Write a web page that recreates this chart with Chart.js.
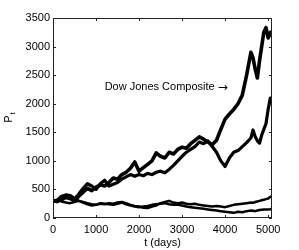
<!DOCTYPE html>
<html>
<head>
<meta charset="utf-8">
<script src="https://cdn.jsdelivr.net/npm/chart.js@4.4.1/dist/chart.umd.min.js"></script>
<style>
  html, body { margin: 0; padding: 0; background: #fff; }
  #wrap { width: 299px; height: 250px; }
</style>
</head>
<body>
<div id="wrap"><canvas id="price-chart" width="299" height="250"></canvas></div>
<script>
// days sampled along the x axis
const days = [0, 100, 200, 300, 400, 500, 600, 700, 800, 900,
  1000, 1100, 1200, 1300, 1400, 1500, 1600, 1700, 1800, 1900,
  2000, 2100, 2200, 2300, 2400, 2500, 2600, 2700, 2800, 2900,
  3000, 3100, 3200, 3300, 3400, 3500, 3600, 3700, 3800, 3900,
  4000, 4100, 4200, 4300, 4400, 4500,
  4600, 4650, 4700, 4750, 4800, 4850, 4900, 4950, 5000, 5050, 5090];

// Dow Jones Composite
const dowJones = [300, 290, 320, 360, 340, 300, 380, 450, 520, 480,
  540, 580, 560, 620, 700, 680, 760, 800, 870, 980,
  820, 880, 940, 1000, 1140, 1080, 1050, 1150, 1120, 1200,
  1240, 1220, 1300, 1360, 1420, 1380, 1330, 1280, 1360, 1550,
  1730, 1820, 1900, 2000, 2150, 2500,
  2900, 2800, 2600, 2450, 2750, 3000, 3250, 3330, 3150, 3250, 3180];

const seriesB = [300, 310, 380, 400, 370, 330, 420, 520, 600, 560,
  500, 600, 660, 560, 590, 620, 680, 720, 760, 730,
  760, 740, 780, 760, 800, 820, 790, 850, 920, 1000,
  1080, 1150, 1200, 1250, 1330, 1300, 1350, 1250, 1150, 1000,
  900, 1050, 1150, 1180, 1250, 1320,
  1400, 1540, 1420, 1350, 1310, 1450, 1550, 1650, 1900, 2100, 2000];

const seriesC = [300, 280, 330, 410, 400, 350, 300, 280, 260, 240,
  230, 250, 240, 260, 250, 270, 280, 260, 230, 210,
  200, 180, 175, 200, 220, 260, 280, 300, 270, 260,
  270, 250, 240, 250, 230, 220, 210, 200, 210, 200,
  190, 210, 230, 240, 250, 260,
  270, 265, 280, 290, 300, 310, 320, 330, 340, 370, 380];

const seriesD = [300, 320, 290, 270, 260, 280, 300, 270, 240, 220,
  230, 260, 250, 240, 230, 250, 270, 240, 220, 200,
  190, 200, 210, 230, 240, 250, 260, 240, 230, 230,
  220, 200, 190, 180, 170, 160, 150, 140, 130, 120,
  110, 100, 90, 110, 100, 120,
  130, 125, 120, 130, 140, 145, 150, 150, 150, 155, 160];

const xTicks = [0, 1000, 2000, 3000, 4000, 5000];
const yTicks = [0, 500, 1000, 1500, 2000, 2500, 3000, 3500];

const FONT = "'Liberation Sans', Arial, Helvetica, sans-serif";

function toPoints(ys) {
  return days.map((d, i) => ({ x: d, y: ys[i] }));
}

function lineSet(ys, width) {
  return {
    data: toPoints(ys),
    borderColor: "#000",
    borderWidth: width,
    pointRadius: 0,
    tension: 0,
    borderJoinStyle: "round",
  };
}

// matlab style box with ticks pointing inwards, plus labels
const boxPlugin = {
  id: "box",
  afterDatasetsDraw(chart) {
    const { ctx, chartArea: a, scales } = chart;
    const x = scales.x, y = scales.y;
    ctx.save();
    ctx.strokeStyle = "#222";
    ctx.lineWidth = 1;
    ctx.strokeRect(a.left + 0.5, a.top + 0.5, a.right - a.left - 1, a.bottom - a.top - 1);
    ctx.beginPath();
    xTicks.forEach((v) => {
      const px = Math.round(x.getPixelForValue(v)) + 0.5;
      ctx.moveTo(px, a.bottom);
      ctx.lineTo(px, a.bottom - 3);
      ctx.moveTo(px, a.top);
      ctx.lineTo(px, a.top + 3);
    });
    yTicks.forEach((v) => {
      const py = Math.round(y.getPixelForValue(v)) + 0.5;
      ctx.moveTo(a.left, py);
      ctx.lineTo(a.left + 3, py);
      ctx.moveTo(a.right, py);
      ctx.lineTo(a.right - 3, py);
    });
    ctx.stroke();

    // annotation
    ctx.fillStyle = "#000";
    ctx.font = "11px " + FONT;
    ctx.textBaseline = "middle";
    ctx.textAlign = "left";
    const ax = x.getPixelForValue(1200), ay = y.getPixelForValue(2300);
    const label = "Dow Jones Composite ";
    ctx.fillText(label, ax, ay);
    const lw = ctx.measureText(label).width;
    ctx.font = "12px 'DejaVu Sans', sans-serif";
    ctx.fillText("\u2192", ax + lw, ay + 1);

    // y title P_t
    ctx.translate(12, (a.top + a.bottom) / 2);
    ctx.rotate(-Math.PI / 2);
    ctx.textBaseline = "alphabetic";
    ctx.font = "11px " + FONT;
    const wP = ctx.measureText("P").width;
    ctx.font = "8px " + FONT;
    const wt = ctx.measureText("t").width;
    const x0 = -(wP + wt) / 2;
    ctx.font = "11px " + FONT;
    ctx.fillText("P", x0, 0);
    ctx.font = "8px " + FONT;
    ctx.fillText("t", x0 + wP + 1, 3);
    ctx.restore();
  },
};

new Chart(document.querySelector("#price-chart").getContext("2d"), {
  type: "line",
  data: {
    datasets: [
      lineSet(dowJones, 3.6),
      lineSet(seriesB, 3.2),
      lineSet(seriesC, 2.5),
      lineSet(seriesD, 2.5),
    ],
  },
  options: {
    responsive: false,
    animation: false,
    layout: { padding: { left: 0, right: 27, top: 18, bottom: 0 } },
    plugins: {
      legend: { display: false },
      tooltip: { enabled: false },
    },
    scales: {
      x: {
        type: "linear",
        min: 0,
        max: 5090,
        afterBuildTicks: (s) => { s.ticks = xTicks.map((v) => ({ value: v })); },
        afterFit: (s) => { s.height = 32; },
        grid: { display: false, drawTicks: false },
        border: { display: false },
        ticks: { padding: 5, color: "#000", font: { family: FONT, size: 11 }, maxRotation: 0, callback: (v) => String(v) },
        title: { display: true, text: "t (days)", color: "#000", font: { family: FONT, size: 11 }, padding: 0 },
      },
      y: {
        type: "linear",
        min: 0,
        max: 3500,
        afterBuildTicks: (s) => { s.ticks = yTicks.map((v) => ({ value: v })); },
        afterFit: (s) => { s.width = 53; },
        grid: { display: false, drawTicks: false },
        border: { display: false },
        ticks: { padding: 3, color: "#000", font: { family: FONT, size: 11 }, callback: (v) => String(v) },
      },
    },
  },
  plugins: [boxPlugin],
});
</script>
</body>
</html>
